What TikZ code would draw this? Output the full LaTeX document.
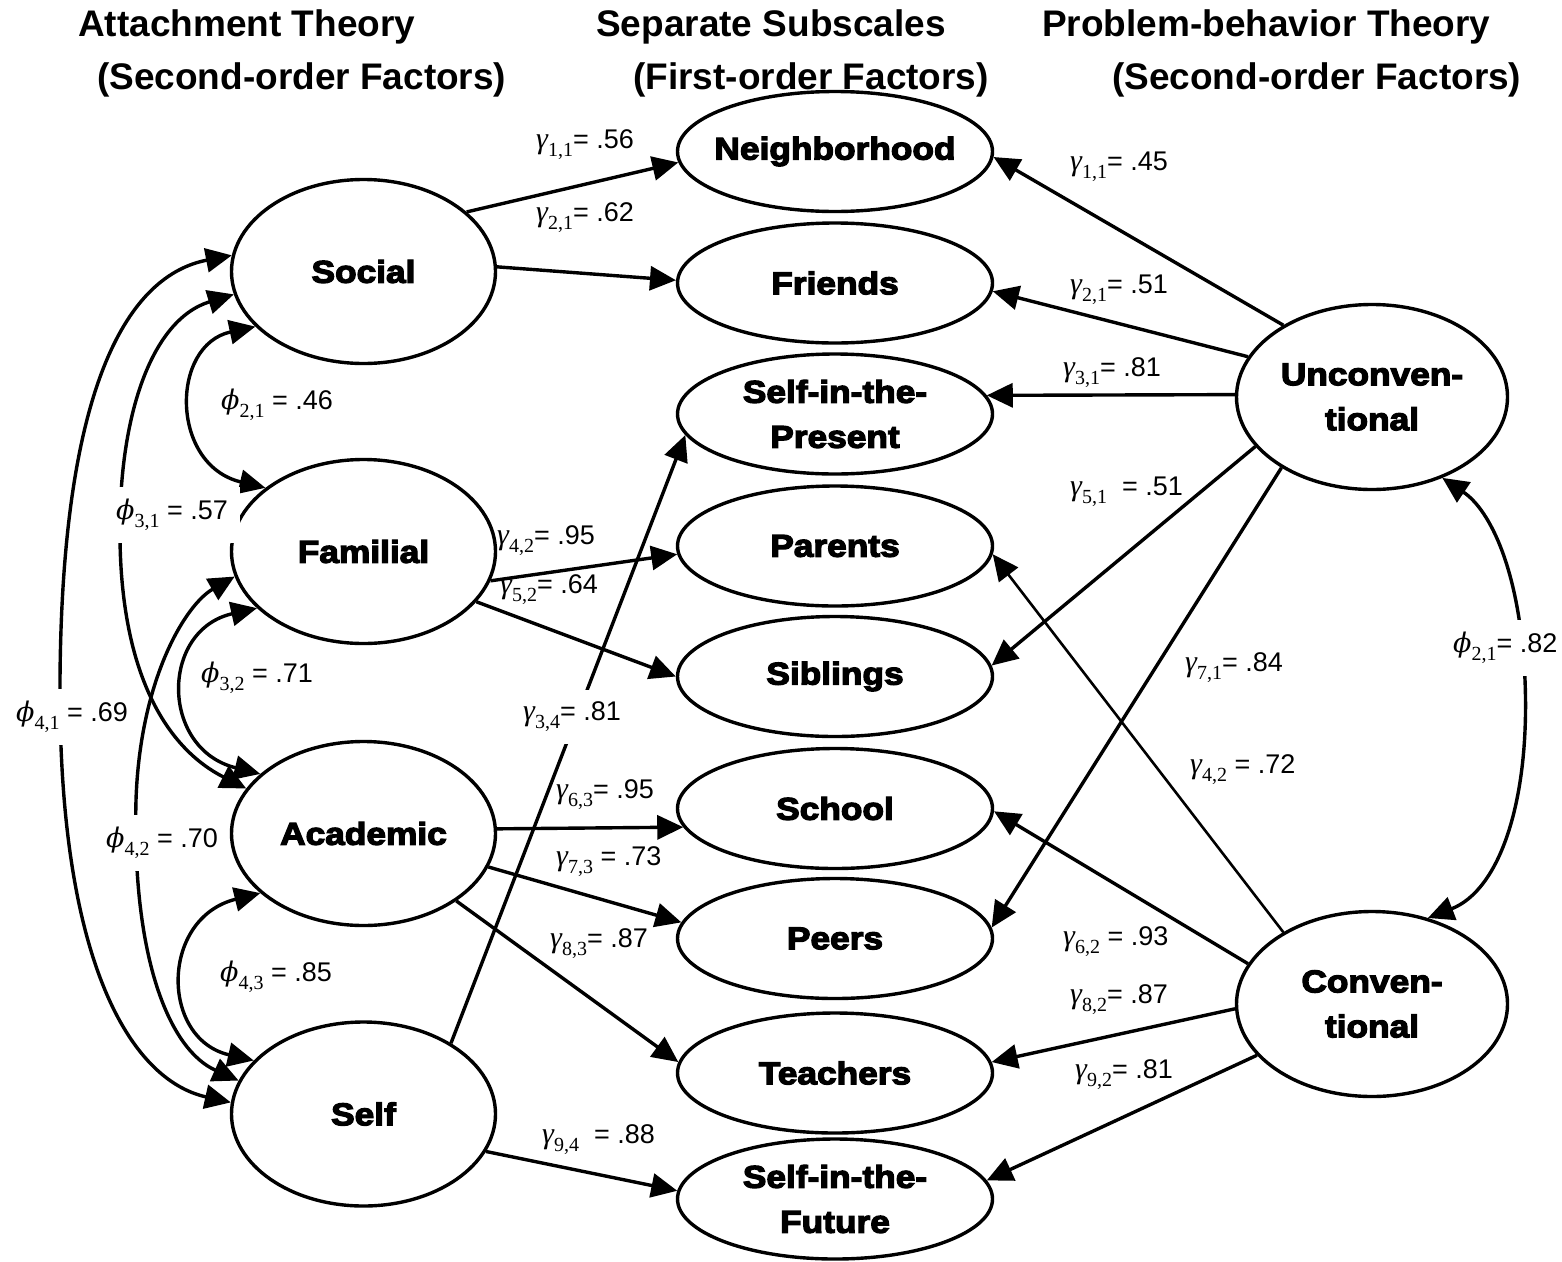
\documentclass[tikz,border=0pt]{standalone}
\usepackage{fontspec}
\setmainfont{Liberation Sans}
\newfontfamily\serf{Liberation Serif}
\newfontfamily\phif{DejaVu Serif}
\newfontfamily\nodefont[FakeStretch=1.12,FakeBold=4]{Liberation Sans}
\usetikzlibrary{shapes.geometric,arrows.meta}
\newcommand{\gsym}{{\serf\itshape\fontsize{30}{30}\selectfont γ}}
\newcommand{\psym}{{\phif\itshape\fontsize{27}{27}\selectfont ϕ}}
\newcommand{\sbs}[1]{\raisebox{-0.3em}{\serf\fontsize{20}{20}\selectfont #1}}
\tikzset{
  lat/.style={ellipse, draw, line width=3.4pt, inner xsep=-14pt, inner ysep=0pt, align=center,
    font=\nodefont\bfseries\fontsize{31.5}{45}\selectfont},
  lft/.style={lat, minimum width=264pt, minimum height=184pt},
  mid/.style={lat, minimum width=315pt, minimum height=120pt},
  rgt/.style={lat, minimum width=271pt, minimum height=185pt},
  tipA/.tip={Triangle[length=26pt,width=24pt]},
  arr/.style={line width=3.4pt, -tipA},
  cov/.style={line width=3.4pt, tipA-tipA},
  lbl/.style={anchor=west, inner sep=0pt, font=\fontsize{27}{27}\selectfont},
  gapl/.style={lbl, fill=white, inner xsep=4pt, inner ysep=12pt},
  hdr/.style={anchor=west, inner sep=0pt, font=\bfseries\fontsize{37}{37}\selectfont}
}
\begin{document}
\begin{tikzpicture}[x=1pt,y=-1pt]
\useasboundingbox (0,0) rectangle (1562,1261);
% headers
\node[hdr] (h1a) at (78,27) {Attachment Theory};
\node[hdr] (h1b) at (97,80) {(Second-order Factors)};
\node[hdr] (h2a) at (596,27) {Separate Subscales};
\node[hdr] (h2b) at (633,80) {(First-order Factors)};
\node[hdr] (h3a) at (1042,27) {Problem-behavior Theory};
\node[hdr] (h3b) at (1112,80) {(Second-order Factors)};
% left column
\node[lft] (soc) at (363.5,271.5) {Social};
\node[lft] (fam) at (363.5,551.5) {Familial};
\node[lft] (aca) at (363.5,833.5) {Academic};
\node[lft] (slf) at (363.5,1114) {Self};
% middle column
\node[mid] (nbh) at (835,151.5) {Neighborhood};
\node[mid] (fri) at (835,283) {Friends};
\node[mid] (pre) at (835,414) {Self-in-the-\\Present};
\node[mid] (par) at (835,546) {Parents};
\node[mid] (sib) at (835,676.5) {Siblings};
\node[mid] (sch) at (835,808.5) {School};
\node[mid] (pee) at (835,938.5) {Peers};
\node[mid] (tea) at (835,1073) {Teachers};
\node[mid] (fut) at (835,1199) {Self-in-the-\\Future};
% right column
\node[rgt] (unc) at (1372,397) {Unconven-\\tional};
\node[rgt] (con) at (1372,1004) {Conven-\\tional};
% left loadings
\draw[arr] (soc.30) -- (nbh.184);
\draw[arr] (soc.2) -- (fri.179);
\draw[arr] (fam.347) -- (par.183);
\draw[arr] (fam.336) -- (sib.180);
\draw[arr] (aca.2) -- (sch.187);
\draw[arr] (aca.345) -- (pee.174);
\draw[arr] (aca.324) -- (tea.176);
\draw[arr] (slf.39) -- (pre.188);
\draw[arr] (slf.343) -- (fut.177);
% right loadings
\draw[arr] (unc.141) -- (nbh.358);
\draw[arr] (unc.162) -- (fri.357);
\draw[arr] (unc.179) -- (pre.7);
\draw[arr] (unc.203) -- (sib.4);
\draw[arr] (unc.218) -- (pee.4);
\draw[arr, line width=2.6pt] (con.141) -- (par.357);
\draw[arr] (con.162) -- (sch.359);
\draw[arr] (con.182) -- (tea.4);
\draw[arr] (con.204) -- (fut.7);
% covariances
\draw[cov] (soc.207) .. controls (170,345) and (170,465) .. (fam.147);
\draw[cov] (fam.208) .. controls (160,630) and (160,749) .. (aca.150);
\draw[cov] (aca.210) .. controls (160,918) and (160,1039) .. (slf.154);
\draw[cov] (soc.190) .. controls (150,320) and (118,420) .. (120,540) .. controls (122,680) and (170,750) .. (aca.159);
\draw[cov] (fam.191) .. controls (185,605) and (140,680) .. (136,800) .. controls (132,960) and (170,1050) .. (slf.165);
\draw[cov] (soc.173) .. controls (130,275) and (62,380) .. (60,680) .. controls (58,960) and (130,1080) .. (slf.175);
\draw[cov] (unc.311) .. controls (1490,510) and (1520,570) .. (1525,680) .. controls (1530,800) and (1500,890) .. (con.57);
% left labels
\node[lbl] (g11) at (536,145) {\gsym\sbs{1,1}= .56};
\node[lbl] (g21) at (536,218) {\gsym\sbs{2,1}= .62};
\node[lbl] (p21) at (221,405) {\psym\sbs{2,1} = .46};
\node[gapl, inner xsep=12pt] (p31) at (104,515) {\psym\sbs{3,1} = .57};
\node[lbl] (g42) at (497,541) {\gsym\sbs{4,2}= .95};
\node[lbl] (g52) at (500,590) {\gsym\sbs{5,2}= .64};
\node[lbl] (p32) at (201,678) {\psym\sbs{3,2} = .71};
\node[gapl] (p41) at (12,717) {\psym\sbs{4,1} = .69};
\node[gapl] (g34) at (519,717) {\gsym\sbs{3,4}= .81};
\node[lbl] (g63) at (556,795) {\gsym\sbs{6,3}= .95};
\node[gapl] (p42) at (102,843) {\psym\sbs{4,2} = .70};
\node[lbl] (g73) at (556,862) {\gsym\sbs{7,3} = .73};
\node[lbl] (g83) at (550,944) {\gsym\sbs{8,3}= .87};
\node[lbl] (p43) at (220,977) {\psym\sbs{4,3} = .85};
\node[lbl] (g94) at (542,1140) {\gsym\sbs{9,4}\ \ = .88};
% right labels
\node[lbl] (r11) at (1070,167) {\gsym\sbs{1,1}= .45};
\node[lbl] (r21) at (1070,290) {\gsym\sbs{2,1}= .51};
\node[lbl] (r31) at (1063,373) {\gsym\sbs{3,1}= .81};
\node[lbl] (r51) at (1070,492) {\gsym\sbs{5,1}\ \ = .51};
\node[gapl] (rp21) at (1449,648) {\psym\sbs{2,1}= .82};
\node[lbl] (r71) at (1185,668) {\gsym\sbs{7,1}= .84};
\node[lbl] (r42) at (1190,770) {\gsym\sbs{4,2} = .72};
\node[lbl] (r62) at (1063,942) {\gsym\sbs{6,2} = .93};
\node[lbl] (r82) at (1070,1000) {\gsym\sbs{8,2}= .87};
\node[lbl] (r92) at (1075,1075) {\gsym\sbs{9,2}= .81};
\end{tikzpicture}
\end{document}
